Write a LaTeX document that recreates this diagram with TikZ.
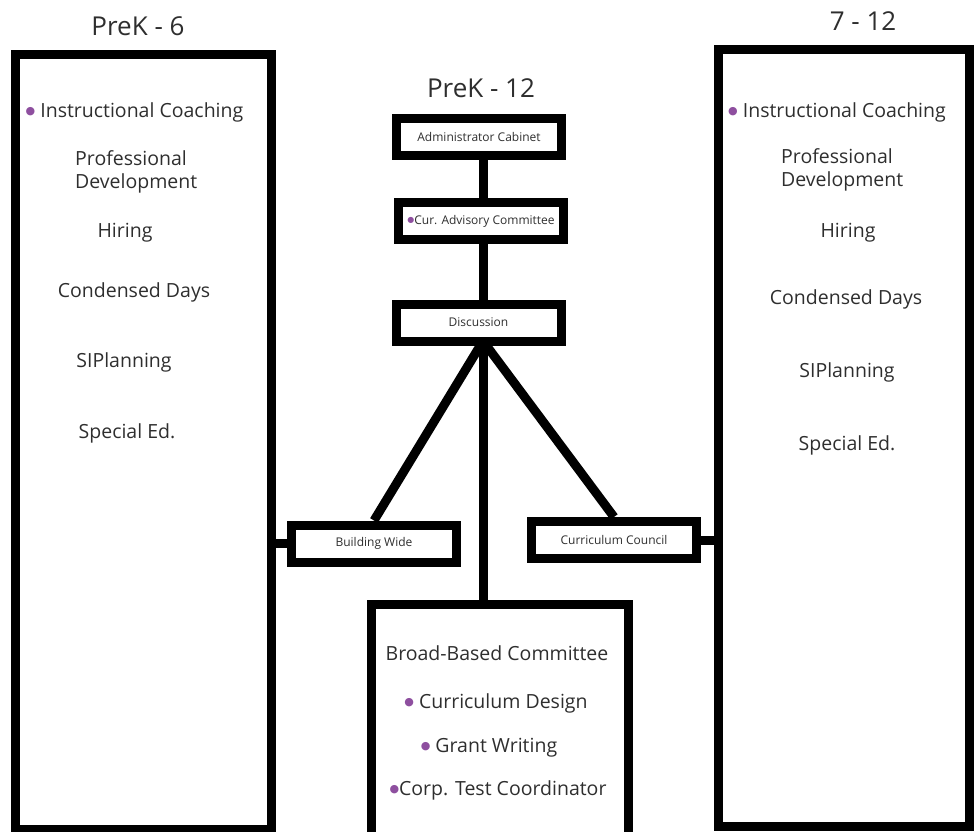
\documentclass[tikz,border=0pt]{standalone}
\usepackage{fontspec}
\setmainfont{Open Sans}
\newfontfamily\symfont{DejaVu Sans}
\usetikzlibrary{positioning}
\definecolor{bulletpurple}{HTML}{8E4F9F}
\definecolor{inkgray}{HTML}{2E2E2E}
\newcommand{\pdot}{\raisebox{3pt}{\color{bulletpurple}\symfont\fontsize{11}{11}\selectfont ●}}
\newcommand{\sdot}{\raisebox{1.5pt}{\color{bulletpurple}\symfont\fontsize{8}{8}\selectfont ●}}

\begin{document}
\begin{tikzpicture}[
      x=1pt, y=-1pt,
      column/.style={rectangle, draw, line width=9pt, inner sep=0pt},
      smallbox/.style={rectangle, draw, line width=9pt, minimum width=165pt, minimum height=37pt, inner sep=0pt, text=inkgray, font=\fontsize{12}{14}\selectfont},
      item/.style={inner sep=0pt, text=inkgray, font=\fontsize{19.5}{23}\selectfont},
      title/.style={inner sep=0pt, text=inkgray, font=\fontsize{26}{30}\selectfont},
      link/.style={line width=9pt}
    ]
      \useasboundingbox (0,0) rectangle (974,832);
      \clip (0,0) rectangle (974,832);

      \node[column, minimum width=256pt, minimum height=774pt] (prek6) at (143,442) {};
      \node[column, minimum width=251pt, minimum height=777pt] (g712) at (844,438) {};
      \node[column, minimum width=257pt, minimum height=270pt] (broad) at (499.5,739) {};

      \node[title] (t6) at (138,26) {PreK - 6};
      \node[title] (t712) at (863,21) {7 - 12};
      \node[title] (t12) at (481,88) {PreK - 12};

      \node[smallbox] (admin) at (479,137) {Administrator Cabinet};
      \node[smallbox] (advisory) at (481,221) {\sdot Cur. Advisory Committee};
      \node[smallbox] (discussion) at (478.5,322.5) {Discussion};
      \node[smallbox] (building) at (374,543.5) {Building Wide};
      \node[smallbox] (council) at (614,540) {Curriculum Council};

      \coordinate (fork) at (483,341);
      \draw[link] (admin.south -| fork) -- (advisory.north -| fork);
      \draw[link] (advisory.south -| fork) -- (discussion.north -| fork);
      \draw[link] (fork) -- (broad.north -| fork);
      \draw[link] (fork) -- (building.north);
      \draw[link] (fork) -- (council.north);
      \draw[link] (building.west) -- (building.west -| prek6.east);
      \draw[link] (council.east) -- (council.east -| g712.west);

      \node[item] (coach6) at (134.5,112) {\pdot\ Instructional Coaching};
      \node[item, align=left, anchor=west] (profdev6) at (75,171.5) {Professional\\Development};
      \node[item] (hiring6) at (125,233) {Hiring};
      \node[item] (days6) at (134,292) {Condensed Days};
      \node[item] (sip6) at (124,362) {SIPlanning};
      \node[item] (sped6) at (127,433) {Special Ed.};

      \node[item] (coach12) at (837,112) {\pdot\ Instructional Coaching};
      \node[item, align=left, anchor=west] (profdev12) at (781,170) {Professional\\Development};
      \node[item] (hiring12) at (848,233) {Hiring};
      \node[item] (days12) at (846,299) {Condensed Days};
      \node[item] (sip12) at (847,372) {SIPlanning};
      \node[item] (sped12) at (847,445) {Special Ed.};

      \node[item] (bbc) at (497,653) {Broad-Based Committee};
      \node[item] (design) at (496,703) {\pdot\ Curriculum Design};
      \node[item] (grant) at (489,748) {\pdot\ Grant Writing};
      \node[item] (corp) at (498,790) {\pdot Corp. Test Coordinator};
    \end{tikzpicture}
\end{document}
